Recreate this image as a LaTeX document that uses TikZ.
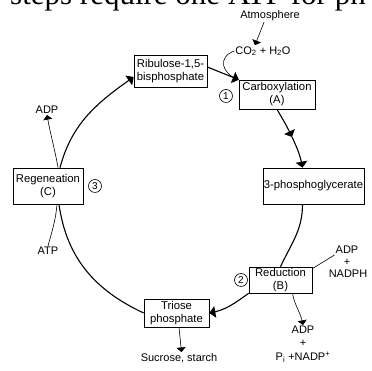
\documentclass[tikz,border=0pt]{standalone}
\usepackage{fontspec}
\setmainfont{Liberation Serif}
\setsansfont{Liberation Sans}
\usetikzlibrary{arrows,positioning,calc}
\tikzset{main base/.style={draw,line width=0.7pt,text centered,inner sep=1pt,
    font=\sffamily\fontsize{11.3}{13}\selectfont}, }
\tikzset{main node/.style={rectangle,main base,align=center}, }
\tikzset{main verb/.style={inner sep=1pt,align=center,
    font=\sffamily\fontsize{11}{13}\selectfont}, }
\tikzset{linea/.style={-triangle 90,line width=1.1pt,draw}}
\tikzset{linea2/.style={-triangle 90,line width=0.6pt,draw}}
\tikzset{linea3/.style={line width=1.1pt,draw}}
\tikzset{linea4/.style={line width=0.6pt,draw}}
\tikzset{primo/.style={circle,draw,line width=0.6pt,inner sep=0pt,minimum size=13pt,
    font=\sffamily\fontsize{10}{10}\selectfont}, }

\begin{document}
\begin{tikzpicture}[x=1pt,y=1pt]
  \useasboundingbox (0,0) rectangle (372,371);
  % line of the page above the figure, cut by the border
  \node[anchor=base west,inner sep=0pt,font=\fontsize{31}{31}\selectfont] (page) at (10,366.5) {steps require one ATP for ph};
  % the cycle
  \node[main node,minimum width=73pt,minimum height=32pt] (rub) at (170.5,300) {Ribulose-1,5-\\bisphosphate};
  \node[main node,minimum width=76pt,minimum height=29pt] (carb) at (277,276.5) {Carboxylation\\(A)};
  \node[main node,minimum width=101pt,minimum height=36pt] (pga) at (313.5,185) {3-phosphoglycerate};
  \node[main node,minimum width=63pt,minimum height=26pt] (red) at (280.5,91) {Reduction\\(B)};
  \node[main node,minimum width=65pt,minimum height=28pt] (tri) at (176.5,58) {Triose\\phosphate};
  \node[main node,minimum width=70pt,minimum height=36pt] (reg) at (48,185) {Regeneation\\(C)};
  \foreach \n/\x/\y in {1/226/275,2/241/91,3/95/185}
    \node[primo] (c\n) at (\x,\y) {\n};
  % inputs and outputs
  \node[main verb] (atm) at (270,355) {Atmosphere};
  \node[main verb] (co2) at (263,320) {CO\textsubscript{2} + H\textsubscript{2}O};
  \node[main verb] (adp1) at (47,261) {ADP};
  \node[main verb] (atp) at (48,120) {ATP};
  \node[main verb] (adpA) at (347,121) {ADP};
  \node[main verb] (plusA) at (347,109) {+};
  \node[main verb] (nadph) at (348,97) {NADPH};
  \node[main verb] (adpB) at (303,41) {ADP};
  \node[main verb] (plusB) at (303,28) {+};
  \node[main verb] (pin) at (303,14) {P\textsubscript{i} +NADP\textsuperscript{+}};
  \node[main verb] (suc) at (179,13) {Sucrose, starch};
  \coordinate (m1) at (292,234);
  % connectors
  \path[linea] ([yshift=4pt]rub.east) -- (carb.north west);
  \path[linea2] ([xshift=-6pt]atm.south) -- ([xshift=-8pt]co2.north);
  \path[linea2] (co2.west) to[out=200,in=160,looseness=1.6] (carb.north west);
  \path[linea] (carb.south) to[out=-60,in=115] (m1);
  \path[linea] (m1) to[out=-65,in=100] ([xshift=-11pt]pga.north);
  \path[linea3] ([xshift=-11pt]pga.south) to[out=-90,in=65] (red.north);
  \path[linea4] (adpA.south west) -- ([yshift=-2pt]red.north east);
  \path[linea] (red.south west) to[out=215,in=10] (tri.east);
  \path[linea2] ([xshift=12pt]red.south) to[out=-80,in=100] (adpB.north);
  \path[linea2] ([xshift=2.5pt]tri.south) -- ([xshift=2.5pt]suc.north);
  \path[linea3] (tri.west) to[out=155,in=-82] ([xshift=11pt]reg.south);
  \path[linea4] (atp.north) to[out=75,in=-95] ([xshift=9pt]reg.south);
  \path[linea2] ([xshift=10pt]reg.north) to[out=100,in=-80] (adp1.south);
  \path[linea] ([xshift=12pt]reg.north) to[out=75,in=215] ([yshift=-6pt]rub.west);
\end{tikzpicture}
\end{document}
